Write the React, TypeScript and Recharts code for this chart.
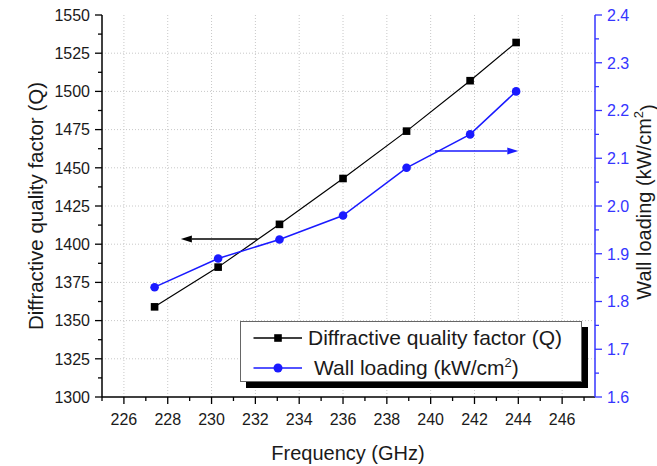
import React from 'react';
import { LineChart, Line, XAxis, YAxis, ReferenceLine, Legend } from 'recharts';

const frequency = [227.4, 230.3, 233.1, 236.0, 238.9, 241.8, 243.9];
const qualityFactor = [1359, 1385, 1413, 1443, 1474, 1507, 1532];
const wallLoading = [1.83, 1.89, 1.93, 1.98, 2.08, 2.15, 2.24];

const xTicks = [225, 226, 227, 228, 229, 230, 231, 232, 233, 234, 235, 236, 237, 238, 239, 240, 241, 242, 243, 244, 245, 246, 247];
const xGrid = [226, 228, 230, 232, 234, 236, 238, 240, 242, 244, 246];
const qTicks = [1300, 1312.5, 1325, 1337.5, 1350, 1362.5, 1375, 1387.5, 1400, 1412.5, 1425, 1437.5, 1450, 1462.5, 1475, 1487.5, 1500, 1512.5, 1525, 1537.5, 1550];
const qGrid = [1325, 1350, 1375, 1400, 1425, 1450, 1475, 1500, 1525];
const wTicks = [1.6, 1.65, 1.7, 1.75, 1.8, 1.85, 1.9, 1.95, 2.0, 2.05, 2.1, 2.15, 2.2, 2.25, 2.3, 2.35, 2.4];

const qArrow = [{ x: 232.1, y: 1403.4 }, { x: 228.6, y: 1403.4 }];
const wArrow = [{ x: 240.2, y: 2.115 }, { x: 244.0, y: 2.115 }];

const data = frequency.map((f, i) => ({ f, q: qualityFactor[i], w: wallLoading[i] }));

const FONT = '"Liberation Sans", Arial, sans-serif';
const BLUE = '#1a1aff';
const AXIS_BLUE = '#3535ff';
const TEXT = '#1a1a1a';

const BottomTick = (props: any) => {
  const { x, y, payload } = props;
  const v = payload.value;
  const major = Math.round(v) % 2 === 0;
  return (
    <g>
      <line x1={x} x2={x} y1={y} y2={y + (major ? 7 : 4)} stroke="#000" strokeWidth={1.3} />
      {major && (
        <text x={x} y={y + 28} textAnchor="middle" fontSize={16} fill={TEXT} fontFamily={FONT}>
          {v}
        </text>
      )}
    </g>
  );
};

const TopTick = (props: any) => {
  const { x, y, payload } = props;
  const v = payload.value;
  const major = Math.round(v) % 2 === 0;
  return <line x1={x} x2={x} y1={y} y2={y + (major ? 7 : 4)} stroke="#000" strokeWidth={1.3} />;
};

const LeftTick = (props: any) => {
  const { x, y, payload } = props;
  const v = payload.value;
  const major = Math.round(v * 10) % 250 === 0;
  return (
    <g>
      <line x1={x - (major ? 7 : 4)} x2={x} y1={y} y2={y} stroke="#000" strokeWidth={1.3} />
      {major && (
        <text x={x - 12} y={y} dy="0.36em" textAnchor="end" fontSize={16} fill={TEXT} fontFamily={FONT}>
          {v}
        </text>
      )}
    </g>
  );
};

const RightTick = (props: any) => {
  const { x, y, payload } = props;
  const v = payload.value;
  const major = Math.round(v * 100) % 10 === 0;
  return (
    <g>
      <line x1={x} x2={x + (major ? 7 : 4)} y1={y} y2={y} stroke={AXIS_BLUE} strokeWidth={1.3} />
      {major && (
        <text x={x + 12} y={y} dy="0.36em" textAnchor="start" fontSize={16} fill={AXIS_BLUE} fontFamily={FONT}>
          {v.toFixed(1)}
        </text>
      )}
    </g>
  );
};

const arrowShape = (color: string) => (props: any) => {
  const { x1, y1, x2, y2 } = props;
  const dx = x2 - x1;
  const dy = y2 - y1;
  const len = Math.sqrt(dx * dx + dy * dy) || 1;
  const ux = dx / len;
  const uy = dy / len;
  const hl = 11;
  const hw = 3.5;
  const bx = x2 - ux * hl;
  const by = y2 - uy * hl;
  const p = `${x2},${y2} ${bx - uy * hw},${by + ux * hw} ${bx + uy * hw},${by - ux * hw}`;
  return (
    <g>
      <line x1={x1} y1={y1} x2={bx} y2={by} stroke={color} strokeWidth={1.5} />
      <polygon points={p} fill={color} />
    </g>
  );
};

const SquareDot = (props: any) => {
  const { cx, cy } = props;
  if (cx == null || cy == null) return null;
  return <rect x={cx - 3.8} y={cy - 3.8} width={7.6} height={7.6} fill="#000" />;
};

const CircleDot = (props: any) => {
  const { cx, cy } = props;
  if (cx == null || cy == null) return null;
  return <circle cx={cx} cy={cy} r={4.3} fill={BLUE} />;
};

const LegendBox = () => (
  <div
    style={{
      width: 340,
      height: 59,
      border: '1px solid #666',
      background: '#fff',
      boxShadow: '6px 6px 0 #000',
      fontFamily: FONT,
      fontSize: 21,
      color: TEXT,
      boxSizing: 'content-box',
    }}
  >
    <div style={{ display: 'flex', alignItems: 'center', height: 30, marginTop: 1 }}>
      <svg width={61} height={30} style={{ flex: 'none' }}>
        <line x1={12.5} x2={61} y1={15} y2={15} stroke="#000" strokeWidth={1.3} />
        <rect x={33.2} y={11.2} width={7.6} height={7.6} fill="#000" />
      </svg>
      <span style={{ marginLeft: 6, whiteSpace: 'nowrap' }}>Diffractive quality factor (Q)</span>
    </div>
    <div style={{ display: 'flex', alignItems: 'center', height: 30 }}>
      <svg width={61} height={30} style={{ flex: 'none' }}>
        <line x1={12.5} x2={61} y1={15} y2={15} stroke={BLUE} strokeWidth={1.5} />
        <circle cx={37} cy={15} r={4.5} fill={BLUE} />
      </svg>
      <span style={{ marginLeft: 12, whiteSpace: 'nowrap' }}>
        Wall loading (kW/cm<sup style={{ fontSize: 13, verticalAlign: 'super', lineHeight: 0 }}>2</sup>)
      </span>
    </div>
  </div>
);

export default function App() {
  return (
    <div style={{ position: 'absolute', left: 0, top: 0, width: 657, height: 466, background: '#fff', fontFamily: FONT }}>
      <LineChart width={657} height={466} data={data} margin={{ top: 15, right: 0, bottom: 0, left: 0 }}>
        {xGrid.map((v) => (
          <ReferenceLine key={'gx' + v} x={v} xAxisId="x" yAxisId="left" stroke="#c8c8c8" strokeDasharray="1 2" strokeWidth={1} />
        ))}
        {qGrid.map((v) => (
          <ReferenceLine key={'gy' + v} y={v} xAxisId="x" yAxisId="left" stroke="#c8c8c8" strokeDasharray="1 2" strokeWidth={1} />
        ))}
        <XAxis
          xAxisId="x"
          dataKey="f"
          type="number"
          domain={[225, 247.5]}
          ticks={xTicks}
          interval={0}
          height={69}
          tickSize={0}
          tickMargin={0}
          tickLine={false}
          tick={BottomTick}
          axisLine={{ stroke: '#000', strokeWidth: 1.5 }}
          label={{
            content: () => (
              <text x={348} y={453} dy="0.36em" textAnchor="middle" fontSize={20} fill={TEXT} fontFamily={FONT}>
                Frequency (GHz)
              </text>
            ),
          }}
        />
        <XAxis
          xAxisId="top"
          orientation="top"
          dataKey="f"
          type="number"
          domain={[225, 247.5]}
          ticks={xTicks}
          interval={0}
          height={0}
          tickSize={0}
          tickMargin={0}
          tickLine={false}
          tick={TopTick}
          axisLine={{ stroke: '#000', strokeWidth: 1.5 }}
        />
        <YAxis
          yAxisId="left"
          orientation="left"
          type="number"
          domain={[1300, 1550]}
          ticks={qTicks}
          interval={0}
          width={102}
          tickSize={0}
          tickMargin={0}
          tickLine={false}
          tick={LeftTick}
          axisLine={{ stroke: '#000', strokeWidth: 1.5 }}
          label={{
            content: () => (
              <text
                x={36}
                y={206}
                dy="0.36em"
                transform="rotate(-90 36 206)"
                textAnchor="middle"
                fontSize={20.5}
                fill={TEXT}
                fontFamily={FONT}
              >
                Diffractive quality factor (Q)
              </text>
            ),
          }}
        />
        <YAxis
          yAxisId="right"
          orientation="right"
          type="number"
          domain={[1.6, 2.4]}
          ticks={wTicks}
          interval={0}
          width={62}
          tickSize={0}
          tickMargin={0}
          tickLine={false}
          tick={RightTick}
          axisLine={{ stroke: AXIS_BLUE, strokeWidth: 1.5 }}
          label={{
            content: () => (
              <text
                x={644}
                y={202}
                dy="0.36em"
                transform="rotate(-90 644 202)"
                textAnchor="middle"
                fontSize={20}
                fill={TEXT}
                fontFamily={FONT}
              >
                Wall loading (kW/cm
                <tspan dy="-0.6em" fontSize={13}>2</tspan>
                <tspan dy="0.6em">)</tspan>
              </text>
            ),
          }}
        />
        <ReferenceLine segment={qArrow} xAxisId="x" yAxisId="left" shape={arrowShape('#000')} />
        <ReferenceLine segment={wArrow} xAxisId="x" yAxisId="right" shape={arrowShape(BLUE)} />
        <Line
          xAxisId="x"
          yAxisId="left"
          dataKey="q"
          type="linear"
          stroke="#000"
          strokeWidth={1.2}
          dot={<SquareDot />}
          isAnimationActive={false}
          legendType="none"
        />
        <Line
          xAxisId="x"
          yAxisId="right"
          dataKey="w"
          type="linear"
          stroke={BLUE}
          strokeWidth={1.5}
          dot={<CircleDot />}
          isAnimationActive={false}
          legendType="none"
        />
        <Legend
          layout="vertical"
          align="center"
          verticalAlign="middle"
          content={() => <LegendBox />}
          wrapperStyle={{ left: 240, top: 321, width: 342, height: 61 }}
        />
      </LineChart>
    </div>
  );
}
